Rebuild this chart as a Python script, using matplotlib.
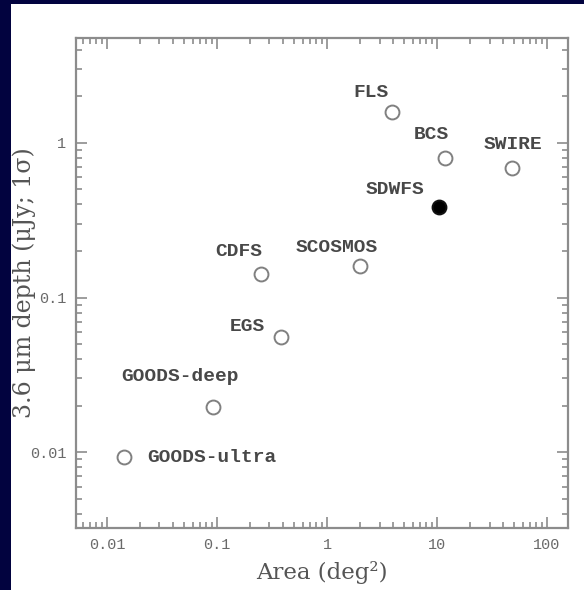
import matplotlib.pyplot as plt
from matplotlib.patches import Rectangle
from matplotlib.ticker import LogLocator, NullFormatter, FixedLocator, FixedFormatter

# survey area (deg^2) vs 3.6 micron 1-sigma depth (uJy)
surveys = ['FLS', 'BCS', 'SWIRE', 'SDWFS', 'SCOSMOS', 'CDFS', 'EGS',
           'GOODS-deep', 'GOODS-ultra']
area = [3.9, 11.8, 48.0, 10.4, 2.0, 0.25, 0.38, 0.092, 0.0143]
depth = [1.58, 0.80, 0.69, 0.386, 0.161, 0.141, 0.056, 0.0195, 0.0093]
filled = [False, False, False, True, False, False, False, False, False]

xticks = [0.01, 0.1, 1, 10, 100]
xticklabels = ['0.01', '0.1', '1', '10', '100']
yticks = [0.01, 0.1, 1]
yticklabels = ['0.01', '0.1', '1']

# label offsets from each point, in pixels (dx, dy, ha)
offsets = {
    'FLS': (-21, 20, 'center'),
    'BCS': (-14, 23, 'center'),
    'SWIRE': (1, 23, 'center'),
    'SDWFS': (-44, 17, 'center'),
    'SCOSMOS': (-23, 18, 'center'),
    'CDFS': (-22, 23, 'center'),
    'EGS': (-33, 10, 'center'),
    'GOODS-deep': (-33, 31, 'center'),
    'GOODS-ultra': (23, 0, 'left'),
}

grey = '#555555'
tick_grey = '#6a6a6a'
spine_grey = '#8c8c8c'

fig = plt.figure(figsize=(5.84, 5.90), dpi=100, facecolor='#02033f')
fig.patches.append(Rectangle((11 / 584, 0), 1 - 11 / 584, 1 - 4 / 590,
                             transform=fig.transFigure, facecolor='white',
                             edgecolor='none', zorder=-10))

ax = fig.add_axes([76 / 584, 1 - 528 / 590, (568 - 76) / 584, (528 - 38) / 590])
ax.set_xscale('log')
ax.set_yscale('log')
ax.set_xlim(0.00523, 155)
ax.set_ylim(0.00324, 4.76)

for name, x, y, f in zip(surveys, area, depth, filled):
    ax.plot(x, y, 'o', ms=10, mew=1.4,
            mec='#111111' if f else '#808080',
            mfc='black' if f else 'none')
    dx, dy, ha = offsets[name]
    ax.annotate(name, (x, y), xytext=(dx, dy), textcoords='offset pixels',
                ha=ha, va='center', family='Liberation Mono',
                fontweight='bold', fontsize=14, color='#484848')

for s in ax.spines.values():
    s.set_color(spine_grey)
    s.set_linewidth(1.6)

ax.xaxis.set_major_locator(FixedLocator(xticks))
ax.xaxis.set_major_formatter(FixedFormatter(xticklabels))
ax.yaxis.set_major_locator(FixedLocator(yticks))
ax.yaxis.set_major_formatter(FixedFormatter(yticklabels))
for axis in (ax.xaxis, ax.yaxis):
    axis.set_minor_locator(LogLocator(base=10, subs=range(2, 10), numticks=20))
    axis.set_minor_formatter(NullFormatter())

ax.tick_params(which='both', direction='in', top=True, right=True,
               color=spine_grey, width=1.2, labelcolor=tick_grey,
               labelsize=11)
ax.tick_params(which='major', length=8, pad=7)
ax.tick_params(which='minor', length=4)
for lab in ax.get_xticklabels() + ax.get_yticklabels():
    lab.set_family('Liberation Mono')

ax.set_xlabel('Area (deg²)', family='DejaVu Serif', fontsize=16.5,
              color=grey)
ax.set_ylabel('3.6 μm depth (μJy; 1σ)', family='DejaVu Serif',
              fontsize=17, color=grey)
ax.xaxis.set_label_coords(0.5, -0.068)
ax.yaxis.set_label_coords(-0.082, 0.5)

fig.savefig('out.png', dpi=100, facecolor=fig.get_facecolor())
